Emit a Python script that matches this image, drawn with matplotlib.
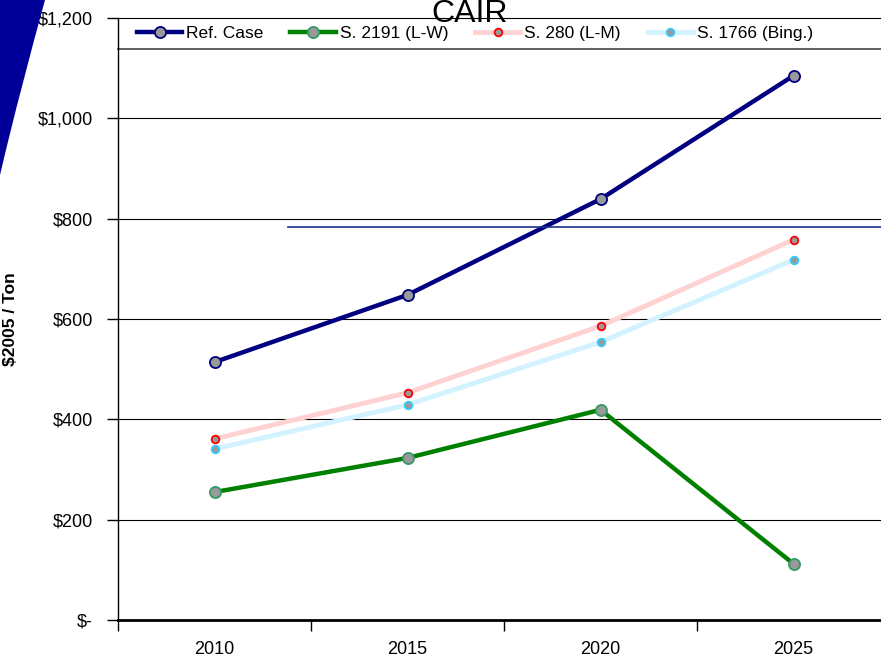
import matplotlib
matplotlib.use("Agg")
import matplotlib.pyplot as plt
from matplotlib.lines import Line2D
from matplotlib.patches import PathPatch
from matplotlib.path import Path
from matplotlib.ticker import FuncFormatter, FixedLocator

plt.rcParams["font.family"] = ["Liberation Sans", "DejaVu Sans"]

years = ["2010", "2015", "2020", "2025"]
ref_case = [514, 648, 839, 1085]
s2191 = [255, 323, 419, 112]
s280 = [361, 453, 586, 758]
s1766 = [341, 429, 554, 718]
y_ticks = [0, 200, 400, 600, 800, 1000, 1200]

W, H = 881, 657
fig = plt.figure(figsize=(W / 100, H / 100), dpi=100)

# eje: izquierda 118px, base 620px, tope 18px
ax = fig.add_axes([118 / W, (H - 620) / H, (W - 118) / W, (620 - 18) / H])
x = list(range(len(years)))

ax.plot(x, ref_case, color="#000080", lw=3.2, marker="o", ms=8,
        mfc="#999999", mec="#000080", mew=1.3, label="Ref. Case", zorder=5)
ax.plot(x, s2191, color="#008000", lw=3.2, marker="o", ms=8,
        mfc="#999999", mec="#339966", mew=1.3, label="S. 2191 (L-W)", zorder=5)
ax.plot(x, s280, color="#ffd2d2", lw=3.5, marker="o", ms=5.5,
        mfc="#999999", mec="#ff0000", mew=1.3, label="S. 280 (L-M)", zorder=4)
ax.plot(x, s1766, color="#d2f2ff", lw=3.5, marker="o", ms=5.5,
        mfc="#999999", mec="#33ccff", mew=1.3, label="S. 1766 (Bing.)", zorder=4)

ax.set_ylim(0, 1200)
ax.set_xlim(-0.5, -0.5 + (W - 118) / 193)
ax.yaxis.set_major_locator(FixedLocator(y_ticks))
ax.yaxis.set_major_formatter(FuncFormatter(lambda v, p: "$-" if v == 0 else f"${v:,.0f}"))
ax.set_xticks(x)
ax.set_xticklabels(years)
ax.set_xticks([-0.5, 0.5, 1.5, 2.5], minor=True)
ax.tick_params(axis="x", which="major", length=0, pad=15, labelsize=13)
ax.tick_params(axis="x", which="minor", length=8, width=1, direction="out")
ax.tick_params(axis="y", length=8, width=1, direction="out", pad=10, labelsize=13)

for v in y_ticks[1:-1]:
    ax.axhline(v, color="black", lw=0.8, zorder=1)

ax.spines["right"].set_visible(False)
ax.spines["top"].set_linewidth(0.8)
ax.spines["bottom"].set_linewidth(2)
ax.spines["left"].set_linewidth(1)

ax.set_ylabel("$2005 / Ton", fontsize=12.5, fontweight="bold")
ax.yaxis.set_label_coords(-0.131, 0.5)

# caja de la leyenda
ax.plot([0, 1], [0.9485, 0.9485], transform=ax.transAxes, color="#444444", lw=1.2,
        clip_on=False)
leg = ax.legend(loc="center left", bbox_to_anchor=(0.025, 0.974), ncol=4,
                frameon=False, fontsize=12.5, handlelength=2.6, handletextpad=0.23,
                columnspacing=1.55, borderaxespad=0, borderpad=0)

# línea azul suelta y titulo cortado
fig.add_artist(Line2D([288 / W, 1], [(H - 227) / H] * 2, color="#1f2f8a", lw=1.2))
fig.text(470 / W, (H - 22) / H, "CAIR", ha="center", va="baseline", fontsize=23)

# adorno azul arriba a la izquierda
verts = [(0, H), (45, H), (30, H - 55), (14, H - 115), (0, H - 175), (0, H)]
codes = [Path.MOVETO, Path.LINETO, Path.CURVE4, Path.CURVE4, Path.CURVE4, Path.CLOSEPOLY]
verts = [(vx / W, vy / H) for vx, vy in verts]
fig.add_artist(PathPatch(Path(verts, codes), transform=fig.transFigure,
                         facecolor="#000099", edgecolor="none"))

fig.savefig("out.png", dpi=100)
